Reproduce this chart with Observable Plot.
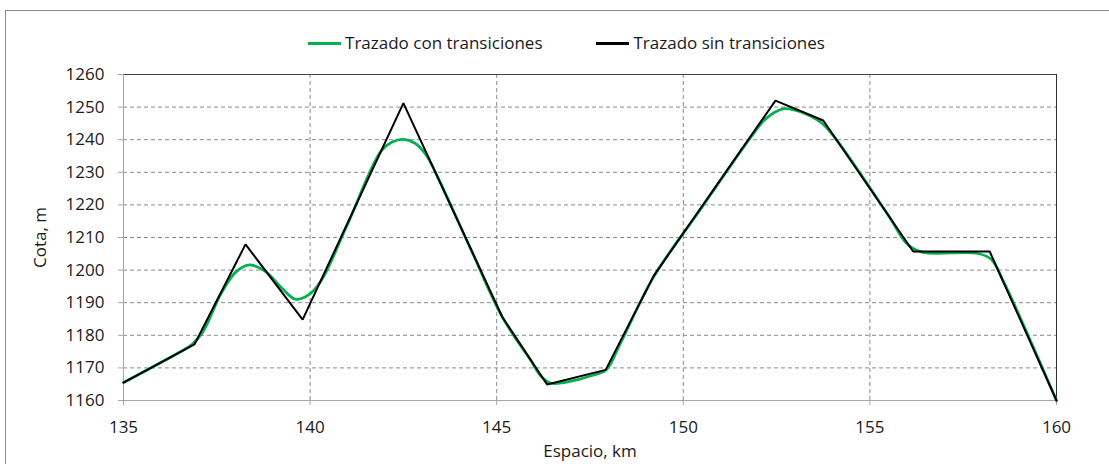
<!DOCTYPE html>
<html>
<head>
<meta charset="utf-8">
<script src="https://cdn.jsdelivr.net/npm/d3@7"></script>
<script src="https://cdn.jsdelivr.net/npm/@observablehq/plot@0.6"></script>
<style>
  html, body { margin: 0; padding: 0; background: #fff; }
  body { width: 1109px; height: 464px; overflow: hidden; position: relative; font-family: "Open Sans", sans-serif; }
  #frame { position: absolute; left: 5px; top: 10px; width: 1200px; height: 600px; border: 1px solid #8c8c8c; pointer-events: none; }
  #legend { height: 60px; display: flex; justify-content: center; align-items: flex-start; padding-top: 0; box-sizing: border-box; font-size: 17px; color: #1a1a1a; position: relative; left: 12px; }
  .item { display: flex; align-items: center; margin: 0 27px; line-height: 20px; margin-top: 33px; }
  .sw { width: 33px; height: 0; border-top: 3px solid; margin-right: 4px; }
  #chart svg { display: block; }
</style>
</head>
<body>
<div id="frame"></div>
<div id="legend"></div>
<div id="chart"></div>
<script>
// Series: "Trazado sin transiciones" (black, polyline vertices)
const sinX = [135, 136.9, 138.27, 139.8, 142.5, 145.15, 146.35, 147.92, 149.21, 152.47, 153.75, 156.16, 158.21, 160];
const sinY = [1165.5, 1177.2, 1207.9, 1184.8, 1251.2, 1185.6, 1164.9, 1169.4, 1198.3, 1252.0, 1245.9, 1205.7, 1205.7, 1160];

// Series: "Trazado con transiciones" (green, smoothed)
const conX = [135, 136.5, 136.85, 137.15, 137.6, 138.0, 138.37, 138.8, 139.2, 139.6, 139.95, 140.3, 141.0, 141.9, 142.2, 142.5, 142.8, 143.1, 143.4, 144.3, 145.15, 145.9, 146.2, 146.45, 146.8, 147.6, 147.95, 148.3, 149.21, 150.5, 151.8, 152.2, 152.7, 153.2, 153.7, 154.1, 155.5, 156.0, 156.4, 157.9, 158.25, 158.6, 160];
const conY = [1165.5, 1174.8, 1177.3, 1181.5, 1192.5, 1199.3, 1201.6, 1199.6, 1195.0, 1191.1, 1192.3, 1196.8, 1214.0, 1236.5, 1239.3, 1240.1, 1239.0, 1235.5, 1229.0, 1206.6, 1185.6, 1172.5, 1167.3, 1165.3, 1165.5, 1167.8, 1169.6, 1177.2, 1198.0, 1219.3, 1240.6, 1246.3, 1249.5, 1248.3, 1245.2, 1240.0, 1216.7, 1208.0, 1205.5, 1205.1, 1203.3, 1196.0, 1160];

const seriesNames = ["Trazado con transiciones", "Trazado sin transiciones"];
const seriesColors = ["#00b050", "#000000"];

const xTicks = [135, 140, 145, 150, 155, 160];
const yTicks = [1160, 1170, 1180, 1190, 1200, 1210, 1220, 1230, 1240, 1250, 1260];

const xLabel = "Espacio, km";
const yLabel = "Cota, m";

const sinData = sinX.map((x, i) => ({x, y: sinY[i]}));
const conData = conX.map((x, i) => ({x, y: conY[i]}));

// legend
const legend = document.getElementById("legend");
seriesNames.forEach((n, i) => {
  const it = document.createElement("div");
  it.className = "item";
  it.innerHTML = `<span class="sw" style="border-color:${seriesColors[i]}"></span><span>${n}</span>`;
  legend.appendChild(it);
});

const xMin = xTicks[0], xMax = xTicks[xTicks.length - 1];
const yMin = yTicks[0], yMax = yTicks[yTicks.length - 1];

const chart = Plot.plot({
  width: 1109,
  height: 404,
  marginLeft: 123,
  marginRight: 53,
  marginTop: 14,
  marginBottom: 64,
  style: {fontFamily: "Open Sans, sans-serif", fontSize: "17px", color: "#1a1a1a", background: "transparent", overflow: "visible"},
  x: {domain: [xMin, xMax]},
  y: {domain: [yMin, yMax]},
  marks: [
    Plot.gridY(yTicks.slice(1, -1), {stroke: "#8a8a8a", strokeOpacity: 1, strokeDasharray: "4,3"}),
    Plot.gridX(xTicks.slice(1, -1), {stroke: "#8a8a8a", strokeOpacity: 1, strokeDasharray: "4,3"}),
    Plot.ruleY([yMax], {stroke: "#404040"}),
    Plot.ruleX([xMax], {stroke: "#303030"}),
    Plot.ruleX([xMin], {stroke: "#a6a6a6"}),
    Plot.ruleY([yMin], {stroke: "#a6a6a6"}),
    Plot.axisY(yTicks, {tickSize: 5, tickPadding: 14, stroke: "#a6a6a6", tickFormat: d => String(d), label: yLabel, labelAnchor: "center", labelArrow: "none", labelOffset: 90}),
    Plot.axisX(xTicks, {tickSize: 5, tickPadding: 15, stroke: "#a6a6a6", tickFormat: d => String(d), label: xLabel, labelAnchor: "center", labelArrow: "none", labelOffset: 56}),
    Plot.line(conData, {x: "x", y: "y", stroke: seriesColors[0], strokeWidth: 2.75, curve: "catmull-rom"}),
    Plot.line(sinData, {x: "x", y: "y", stroke: seriesColors[1], strokeWidth: 2, strokeLinejoin: "miter"})
  ]
});
document.getElementById("chart").appendChild(chart);
</script>
</body>
</html>
